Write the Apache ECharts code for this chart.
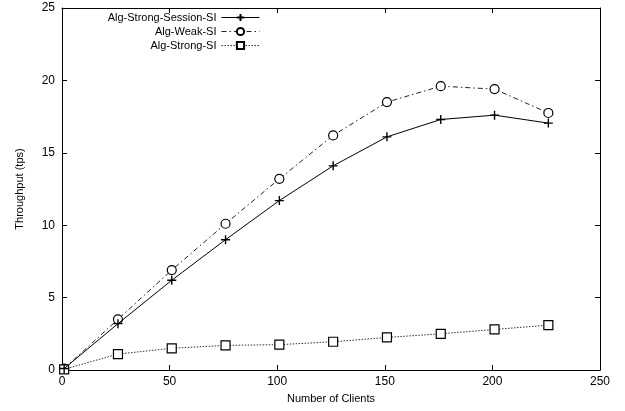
<!DOCTYPE html>
<html>
<head>
<meta charset="utf-8">
<script src="https://cdn.jsdelivr.net/npm/echarts@6/dist/echarts.min.js"></script>
<style>html,body{margin:0;padding:0;background:#fff;}#c{width:625px;height:411px;}</style>
</head>
<body>
<div id="c"></div>
<script>
var clients = [1, 26, 51, 76, 101, 126, 151, 176, 201, 226];
var strongSession = [0.1, 3.2, 6.2, 9.0, 11.7, 14.1, 16.1, 17.3, 17.6, 17.05];
var weak = [0.1, 3.5, 6.9, 10.1, 13.2, 16.2, 18.5, 19.6, 19.4, 17.75];
var strong = [0.05, 1.1, 1.5, 1.7, 1.75, 1.95, 2.25, 2.5, 2.8, 3.1];
var names = ['Alg-Strong-Session-SI', 'Alg-Weak-SI', 'Alg-Strong-SI'];

function pairs(ys) { return clients.map(function (x, i) { return [x, ys[i]]; }); }

var font = 'Liberation Sans, Arial, sans-serif';
var chart = echarts.init(document.getElementById('c'), null, {renderer: 'canvas'});

function legendAt(name, top) {
  return {
    data: [name], right: 365, top: top, orient: 'horizontal', align: 'right',
    itemWidth: 38, itemHeight: 9, padding: 0, selectedMode: false,
    lineStyle: {width: 1},
    textStyle: {fontFamily: font, fontSize: 11, color: '#000'}
  };
}

var axisBase = {
  axisLine: {show: true, onZero: false, lineStyle: {color: '#000', width: 1}},
  axisTick: {show: true, inside: true, length: 5, lineStyle: {color: '#000'}},
  splitLine: {show: false}
};

chart.setOption({
  animation: false,
  backgroundColor: '#fff',
  grid: {left: 62, right: 25, top: 8, bottom: 41, containLabel: false},
  legend: [legendAt(names[0], 12), legendAt(names[1], 26), legendAt(names[2], 40)],
  xAxis: [
    Object.assign({}, axisBase, {
      type: 'value', min: 0, max: 250, interval: 50, position: 'bottom',
      name: 'Number of Clients', nameLocation: 'middle', nameGap: 23,
      nameTextStyle: {fontFamily: font, fontSize: 11, color: '#000'},
      axisLabel: {fontFamily: font, fontSize: 12, color: '#000', margin: 6}
    }),
    Object.assign({}, axisBase, {
      type: 'value', min: 0, max: 250, interval: 50, position: 'top',
      axisLabel: {show: false}
    })
  ],
  yAxis: [
    Object.assign({}, axisBase, {
      type: 'value', min: 0, max: 25, interval: 5, position: 'left',
      name: 'Throughput (tps)', nameLocation: 'middle', nameGap: 37, nameRotate: 90,
      nameTextStyle: {fontFamily: font, fontSize: 11, color: '#000'},
      axisLabel: {fontFamily: font, fontSize: 12, color: '#000', margin: 7}
    }),
    Object.assign({}, axisBase, {
      type: 'value', min: 0, max: 25, interval: 5, position: 'right',
      axisLabel: {show: false}
    })
  ],
  series: [
    {
      name: names[0], type: 'line', data: pairs(strongSession),
      symbol: 'path://M0,5L10,5M5,0L5,10', symbolSize: 9, showAllSymbol: true,
      itemStyle: {color: 'rgba(0,0,0,0)', borderColor: '#000', borderWidth: 1.4},
      lineStyle: {color: '#000', width: 1, type: 'solid'}, z: 3
    },
    {
      name: names[1], type: 'line', data: pairs(weak),
      symbol: 'circle', symbolSize: 9, showAllSymbol: true,
      itemStyle: {color: '#fff', borderColor: '#000', borderWidth: 1.2},
      lineStyle: {color: '#222', width: 1, type: [5, 3, 1.5, 3]}, z: 2
    },
    {
      name: names[2], type: 'line', data: pairs(strong),
      symbol: 'rect', symbolSize: 9, showAllSymbol: true,
      itemStyle: {color: '#fff', borderColor: '#000', borderWidth: 1.2},
      lineStyle: {color: '#333', width: 1, type: [1.5, 1.5]}, z: 2
    }
  ]
});
</script>
</body>
</html>
